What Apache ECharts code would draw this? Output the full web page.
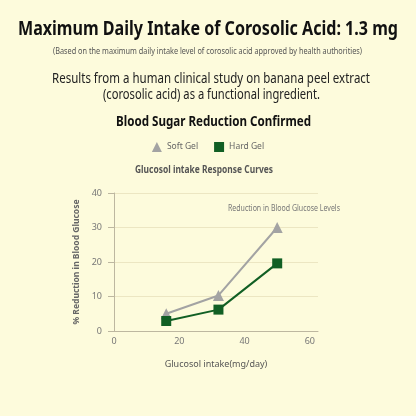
<!DOCTYPE html>
<html>
<head>
<meta charset="utf-8">
<script src="https://cdn.jsdelivr.net/npm/echarts@6/dist/echarts.min.js"></script>
<style>
  html, body { margin: 0; padding: 0; background: #fdfbdc; }
  #chart { width: 416px; height: 416px; }
</style>
</head>
<body>
<div id="chart"></div>
<script>
// Dose (mg/day) and % reduction in blood glucose for each formulation
const softGelDose = [16, 32, 50];
const softGelReduction = [5, 10.3, 30];
const hardGelDose = [16, 32, 50];
const hardGelReduction = [2.9, 6.2, 19.6];
const seriesNames = ['Soft Gel', 'Hard Gel'];
const yTicks = [0, 10, 20, 30, 40];
const xTicks = [0, 20, 40, 60];

const pairs = (xs, ys) => xs.map((x, i) => [x, ys[i]]);

const chartFont = '"Noto Sans", "Open Sans", sans-serif';

// Condensed headline text: squeeze each line horizontally to a set width.
const measureCtx = document.createElement('canvas').getContext('2d');
function squeezedText(text, cx, cy, width, size, weight, color) {
  const font = `${weight} ${size}px ${chartFont}`;
  measureCtx.font = font;
  const natural = measureCtx.measureText(text).width;
  return {
    type: 'text', x: cx, y: cy, scaleX: width / natural, z: 10,
    style: { text, font, fill: color, align: 'center', verticalAlign: 'middle' }
  };
}

const chart = echarts.init(document.getElementById('chart'), null, { renderer: 'canvas' });

chart.setOption({
  backgroundColor: '#fdfbdc',
  animation: false,
  graphic: [
    squeezedText('Maximum Daily Intake of Corosolic Acid: 1.3 mg', 208, 29, 380, 20, 'bold', '#111'),
    squeezedText('(Based on the maximum daily intake level of corosolic acid approved by health authorities)', 207.5, 52, 309, 8.5, 'normal', '#555'),
    squeezedText('Results from a human clinical study on banana peel extract', 211, 79, 318, 14, 'normal', '#222'),
    squeezedText('(corosolic acid) as a functional ingredient.', 211.5, 95, 217, 14, 'normal', '#222'),
    squeezedText('Blood Sugar Reduction Confirmed', 213.5, 122, 195, 13.5, 'bold', '#111'),
    squeezedText('Glucosol intake Response Curves', 204, 170, 138, 10, 'bold', '#555'),
    squeezedText('Reduction in Blood Glucose Levels', 284, 209, 112, 8, 'normal', '#777')
  ],
  legend: {
    top: 137, left: 'center',
    itemWidth: 10, itemHeight: 10, itemGap: 16,
    textStyle: { fontFamily: chartFont, fontSize: 8.5, color: '#666' },
    data: [
      { name: seriesNames[0], icon: 'triangle' },
      { name: seriesNames[1], icon: 'rect' }
    ]
  },
  grid: { left: 114, right: 98, top: 193, bottom: 85 },
  xAxis: {
    type: 'value', min: 0, max: 62.5, interval: 20,
    name: 'Glucosol intake(mg/day)', nameLocation: 'middle', nameGap: 29,
    nameTextStyle: { fontFamily: chartFont, fontSize: 9, color: '#555' },
    axisLine: { show: true, lineStyle: { color: '#bdb7a0', width: 1 } },
    axisTick: { show: false },
    splitLine: { show: false },
    axisLabel: {
      fontFamily: chartFont, fontSize: 9, color: '#777', margin: 6,
      showMaxLabel: false,
      formatter: v => (xTicks.includes(v) ? String(v) : '')
    }
  },
  yAxis: {
    type: 'value', min: 0, max: 40, interval: 10,
    name: '% Reduction in Blood Glucose', nameLocation: 'middle', nameGap: 33,
    nameTextStyle: { fontFamily: chartFont, fontSize: 8.5, fontWeight: 'bold', color: '#666' },
    axisLine: { show: true, lineStyle: { color: '#bdb7a0', width: 1 } },
    axisTick: { show: true, length: 6, lineStyle: { color: '#bdb7a0' } },
    splitLine: { show: true, lineStyle: { color: '#ece6c2', width: 1 } },
    axisLabel: {
      fontFamily: chartFont, fontSize: 9, color: '#777', margin: 12,
      formatter: v => (yTicks.includes(v) ? String(v) : '')
    }
  },
  series: [
    {
      name: seriesNames[0], type: 'line',
      data: pairs(softGelDose, softGelReduction),
      symbol: 'triangle', symbolSize: 11,
      lineStyle: { color: '#a3a3a3', width: 2 },
      itemStyle: { color: '#a3a3a3' },
      z: 2
    },
    {
      name: seriesNames[1], type: 'line',
      data: pairs(hardGelDose, hardGelReduction),
      symbol: 'rect', symbolSize: 10,
      lineStyle: { color: '#115f24', width: 2 },
      itemStyle: { color: '#115f24' },
      z: 3
    }
  ]
});
</script>
</body>
</html>
